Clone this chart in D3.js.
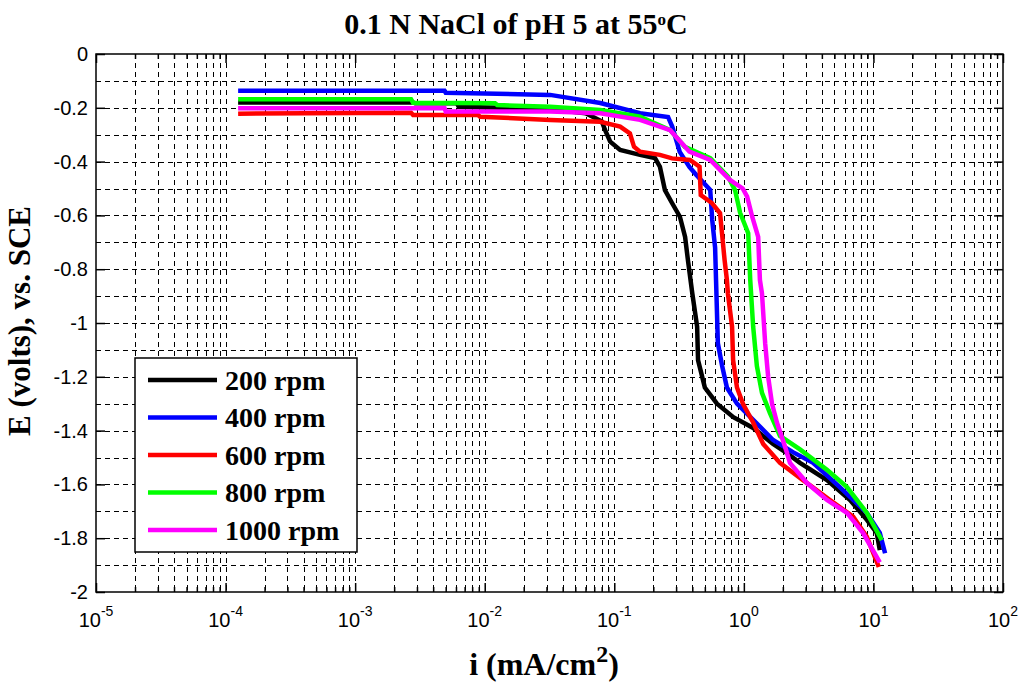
<!DOCTYPE html>
<html>
<head>
<meta charset="utf-8">
<script src="https://cdn.jsdelivr.net/npm/d3@7"></script>
<style>
  body { margin: 0; background: #fff; }
  svg text { fill: #000; }
</style>
</head>
<body>
<div id="chart"></div>
<script>
// polarization curves, i in mA/cm2, E in volts vs SCE
const seriesNames = ["200 rpm", "400 rpm", "600 rpm", "800 rpm", "1000 rpm"];

const rpm200 = [[1.25e-4,-0.18],[2.8e-3,-0.18],[2.9e-3,-0.183],[6.1e-3,-0.183],[6.3e-3,-0.196],[3.2e-2,-0.205],[6.0e-2,-0.22],[8.0e-2,-0.25],[8.5e-2,-0.283],[9.3e-2,-0.326],[0.111,-0.357],[0.158,-0.375],[0.206,-0.387],[0.225,-0.419],[0.246,-0.506],[0.279,-0.554],[0.321,-0.605],[0.352,-0.68],[0.37,-0.766],[0.40,-0.89],[0.436,-1.014],[0.443,-1.138],[0.50,-1.24],[0.62,-1.30],[0.83,-1.35],[1.18,-1.39],[1.68,-1.45],[2.15,-1.484],[2.71,-1.52],[4.38,-1.584],[6.6,-1.658],[8.9,-1.732],[10.6,-1.78],[11.2,-1.844]];

const rpm400 = [[1.25e-4,-0.137],[4.9e-3,-0.137],[5.0e-3,-0.144],[3.2e-2,-0.152],[7.8e-2,-0.182],[0.158,-0.22],[0.26,-0.234],[0.28,-0.27],[0.32,-0.364],[0.38,-0.42],[0.43,-0.45],[0.55,-0.505],[0.57,-0.617],[0.60,-0.72],[0.61,-0.84],[0.63,-1.075],[0.68,-1.16],[0.74,-1.24],[0.885,-1.30],[1.18,-1.36],[1.68,-1.435],[2.39,-1.48],[3.42,-1.52],[5.5,-1.61],[8.9,-1.706],[11.2,-1.78],[12.3,-1.856]];

const rpm600 = [[1.25e-4,-0.222],[2.7e-3,-0.218],[2.8e-3,-0.227],[8.9e-3,-0.227],[9.2e-3,-0.233],[3.2e-2,-0.245],[7.8e-2,-0.252],[0.111,-0.27],[0.132,-0.295],[0.142,-0.345],[0.158,-0.363],[0.225,-0.375],[0.279,-0.388],[0.384,-0.394],[0.455,-0.419],[0.465,-0.524],[0.567,-0.554],[0.655,-0.592],[0.678,-0.666],[0.71,-0.766],[0.74,-0.84],[0.753,-0.89],[0.811,-1.014],[0.826,-1.138],[0.885,-1.24],[0.984,-1.30],[1.18,-1.37],[1.41,-1.45],[1.90,-1.52],[2.86,-1.584],[4.62,-1.658],[6.97,-1.72],[8.9,-1.795],[11.0,-1.907]];

const rpm800 = [[1.25e-4,-0.168],[2.7e-3,-0.168],[2.8e-3,-0.181],[1.2e-2,-0.183],[1.25e-2,-0.19],[3.2e-2,-0.196],[7.8e-2,-0.208],[0.158,-0.233],[0.27,-0.283],[0.35,-0.345],[0.55,-0.387],[0.755,-0.456],[0.855,-0.506],[0.935,-0.59],[1.08,-0.666],[1.12,-0.84],[1.18,-1.014],[1.26,-1.16],[1.38,-1.26],[1.59,-1.335],[1.90,-1.42],[2.71,-1.47],[4.38,-1.546],[6.25,-1.61],[8.9,-1.706],[11.6,-1.807]];

const rpm1000 = [[1.25e-4,-0.202],[4.9e-3,-0.202],[5.0e-3,-0.214],[3.2e-2,-0.214],[7.8e-2,-0.22],[0.158,-0.245],[0.27,-0.283],[0.38,-0.363],[0.55,-0.394],[0.78,-0.468],[0.98,-0.5],[1.06,-0.53],[1.16,-0.605],[1.29,-0.68],[1.33,-0.84],[1.38,-0.89],[1.46,-1.075],[1.54,-1.2],[1.65,-1.30],[1.80,-1.37],[2.08,-1.46],[2.27,-1.52],[3.07,-1.595],[4.38,-1.658],[6.25,-1.706],[8.3,-1.78],[11.2,-1.89]];

const xDecades = [-5, -4, -3, -2, -1, 0, 1, 2];
const yTicks = [0, -0.2, -0.4, -0.6, -0.8, -1, -1.2, -1.4, -1.6, -1.8, -2];
const yGrid = [-0.1, -0.2, -0.3, -0.4, -0.5, -0.6, -0.7, -0.8, -0.9, -1, -1.1, -1.2, -1.3, -1.4, -1.5, -1.6, -1.7, -1.8, -1.9];

const series = [rpm200, rpm400, rpm600, rpm800, rpm1000];
const colors = ["#000000", "#0000ff", "#ff0000", "#00ff00", "#ff00ff"];

const serif = "'Liberation Serif', 'Times New Roman', serif";
const sans = "'Liberation Sans', Arial, sans-serif";

const margin = { top: 54, right: 21, bottom: 94, left: 96 };
const width = 1024 - margin.left - margin.right;
const height = 686 - margin.top - margin.bottom;

const root = d3.select("#chart")
    .append("svg")
    .attr("width", 1024)
    .attr("height", 686);

const svg = root.append("g")
    .attr("transform", `translate(${margin.left},${margin.top})`);

// Scales
const xScale = d3.scaleLog()
    .domain([1e-5, 1e2])
    .range([0, width]);

const yScale = d3.scaleLinear()
    .domain([-2, 0])
    .range([height, 0]);

// minor positions 2..9 in each decade
const majorX = xDecades.map(p => Math.pow(10, p));
const minorX = [];
xDecades.slice(0, -1).forEach(p => {
    for (let k = 2; k <= 9; k++) minorX.push(k * Math.pow(10, p));
});

// Grid
const grid = svg.append("g")
    .attr("stroke", "#000")
    .attr("stroke-width", 1)
    .attr("stroke-dasharray", "5,4");

grid.selectAll(".hgrid")
    .data(yGrid)
    .enter()
    .append("line")
    .attr("x1", 0)
    .attr("x2", width)
    .attr("y1", d => Math.round(yScale(d)) + 0.5)
    .attr("y2", d => Math.round(yScale(d)) + 0.5);

grid.selectAll(".vgrid")
    .data(minorX.concat(majorX.slice(1, -1)))
    .enter()
    .append("line")
    .attr("y1", 0)
    .attr("y2", height)
    .attr("x1", d => Math.round(xScale(d)) + 0.5)
    .attr("x2", d => Math.round(xScale(d)) + 0.5);

// Curves
const line = d3.line()
    .x(d => xScale(d[0]))
    .y(d => yScale(d[1]));

series.forEach((data, i) => {
    svg.append("path")
        .datum(data)
        .attr("fill", "none")
        .attr("stroke", colors[i])
        .attr("stroke-width", 4.5)
        .attr("stroke-linejoin", "miter")
        .attr("d", line);
});

// Axes (ticks inward, on all four sides)
const styleAxis = g => {
    g.select(".domain").remove();
    g.selectAll(".tick line").attr("stroke", "#000").attr("stroke-width", 1.5);
};

svg.append("g")
    .call(d3.axisLeft(yScale).tickValues(yTicks).tickSize(-9).tickPadding(8)
        .tickFormat(d => d === 0 ? "0" : String(+d.toFixed(1))))
    .call(styleAxis)
    .call(g => g.selectAll("text")
        .attr("font-family", sans)
        .attr("font-size", 20)
        .attr("fill", "#1a1a2e"));

svg.append("g")
    .attr("transform", `translate(${width},0)`)
    .call(d3.axisRight(yScale).tickValues(yTicks).tickSize(-9).tickFormat(""))
    .call(styleAxis);

[[d3.axisBottom, height], [d3.axisTop, 0]].forEach(([axis, y]) => {
    svg.append("g")
        .attr("transform", `translate(0,${y})`)
        .call(axis(xScale).tickValues(majorX).tickSize(-9).tickFormat(""))
        .call(styleAxis);
    svg.append("g")
        .attr("transform", `translate(0,${y})`)
        .call(axis(xScale).tickValues(minorX).tickSize(-5).tickFormat(""))
        .call(styleAxis);
});

// x tick labels 10^p
const xLab = svg.append("g")
    .selectAll(".xlab")
    .data(xDecades)
    .enter()
    .append("text")
    .attr("x", d => xScale(Math.pow(10, d)))
    .attr("y", height + 35)
    .attr("text-anchor", "middle")
    .attr("font-family", sans)
    .attr("font-size", 20)
    .attr("fill", "#1a1a2e");
xLab.append("tspan").text("10");
xLab.append("tspan")
    .attr("dy", -11)
    .attr("font-size", 14)
    .text(d => d);

// Frame
svg.append("rect")
    .attr("x", 0)
    .attr("y", 0)
    .attr("width", width)
    .attr("height", height)
    .attr("fill", "none")
    .attr("stroke", "#000")
    .attr("stroke-width", 1.5);

// Legend
const legend = svg.append("g")
    .attr("transform", "translate(39,304)");

legend.append("rect")
    .attr("width", 222)
    .attr("height", 194)
    .attr("fill", "#fff")
    .attr("stroke", "#000")
    .attr("stroke-width", 1.5);

seriesNames.forEach((name, i) => {
    const row = legend.append("g")
        .attr("transform", `translate(0,${22 + i * 37.5})`);
    row.append("line")
        .attr("x1", 13)
        .attr("x2", 82)
        .attr("stroke", colors[i])
        .attr("stroke-width", 4.5);
    row.append("text")
        .attr("x", 90)
        .attr("dy", "0.35em")
        .attr("font-family", serif)
        .attr("font-weight", "bold")
        .attr("font-size", 28)
        .text(name);
});

// Title
const title = root.append("text")
    .attr("x", 516)
    .attr("y", 34)
    .attr("text-anchor", "middle")
    .attr("font-family", serif)
    .attr("font-weight", "bold")
    .attr("font-size", 30);
title.append("tspan").text("0.1 N NaCl of pH 5 at 55");
title.append("tspan").attr("font-size", 17).attr("dy", -9).text("o");
title.append("tspan").attr("dy", 9).text("C");

// Axis titles
const xTitle = root.append("text")
    .attr("x", 544)
    .attr("y", 675)
    .attr("text-anchor", "middle")
    .attr("font-family", serif)
    .attr("font-weight", "bold")
    .attr("font-size", 32);
xTitle.append("tspan").text("i (mA/cm");
xTitle.append("tspan").attr("font-size", 24).attr("dy", -13).text("2");
xTitle.append("tspan").attr("dy", 13).text(")");

root.append("text")
    .attr("transform", "translate(30,321) rotate(-90)")
    .attr("text-anchor", "middle")
    .attr("font-family", serif)
    .attr("font-weight", "bold")
    .attr("font-size", 31)
    .text("E (volts), vs. SCE");
</script>
</body>
</html>
